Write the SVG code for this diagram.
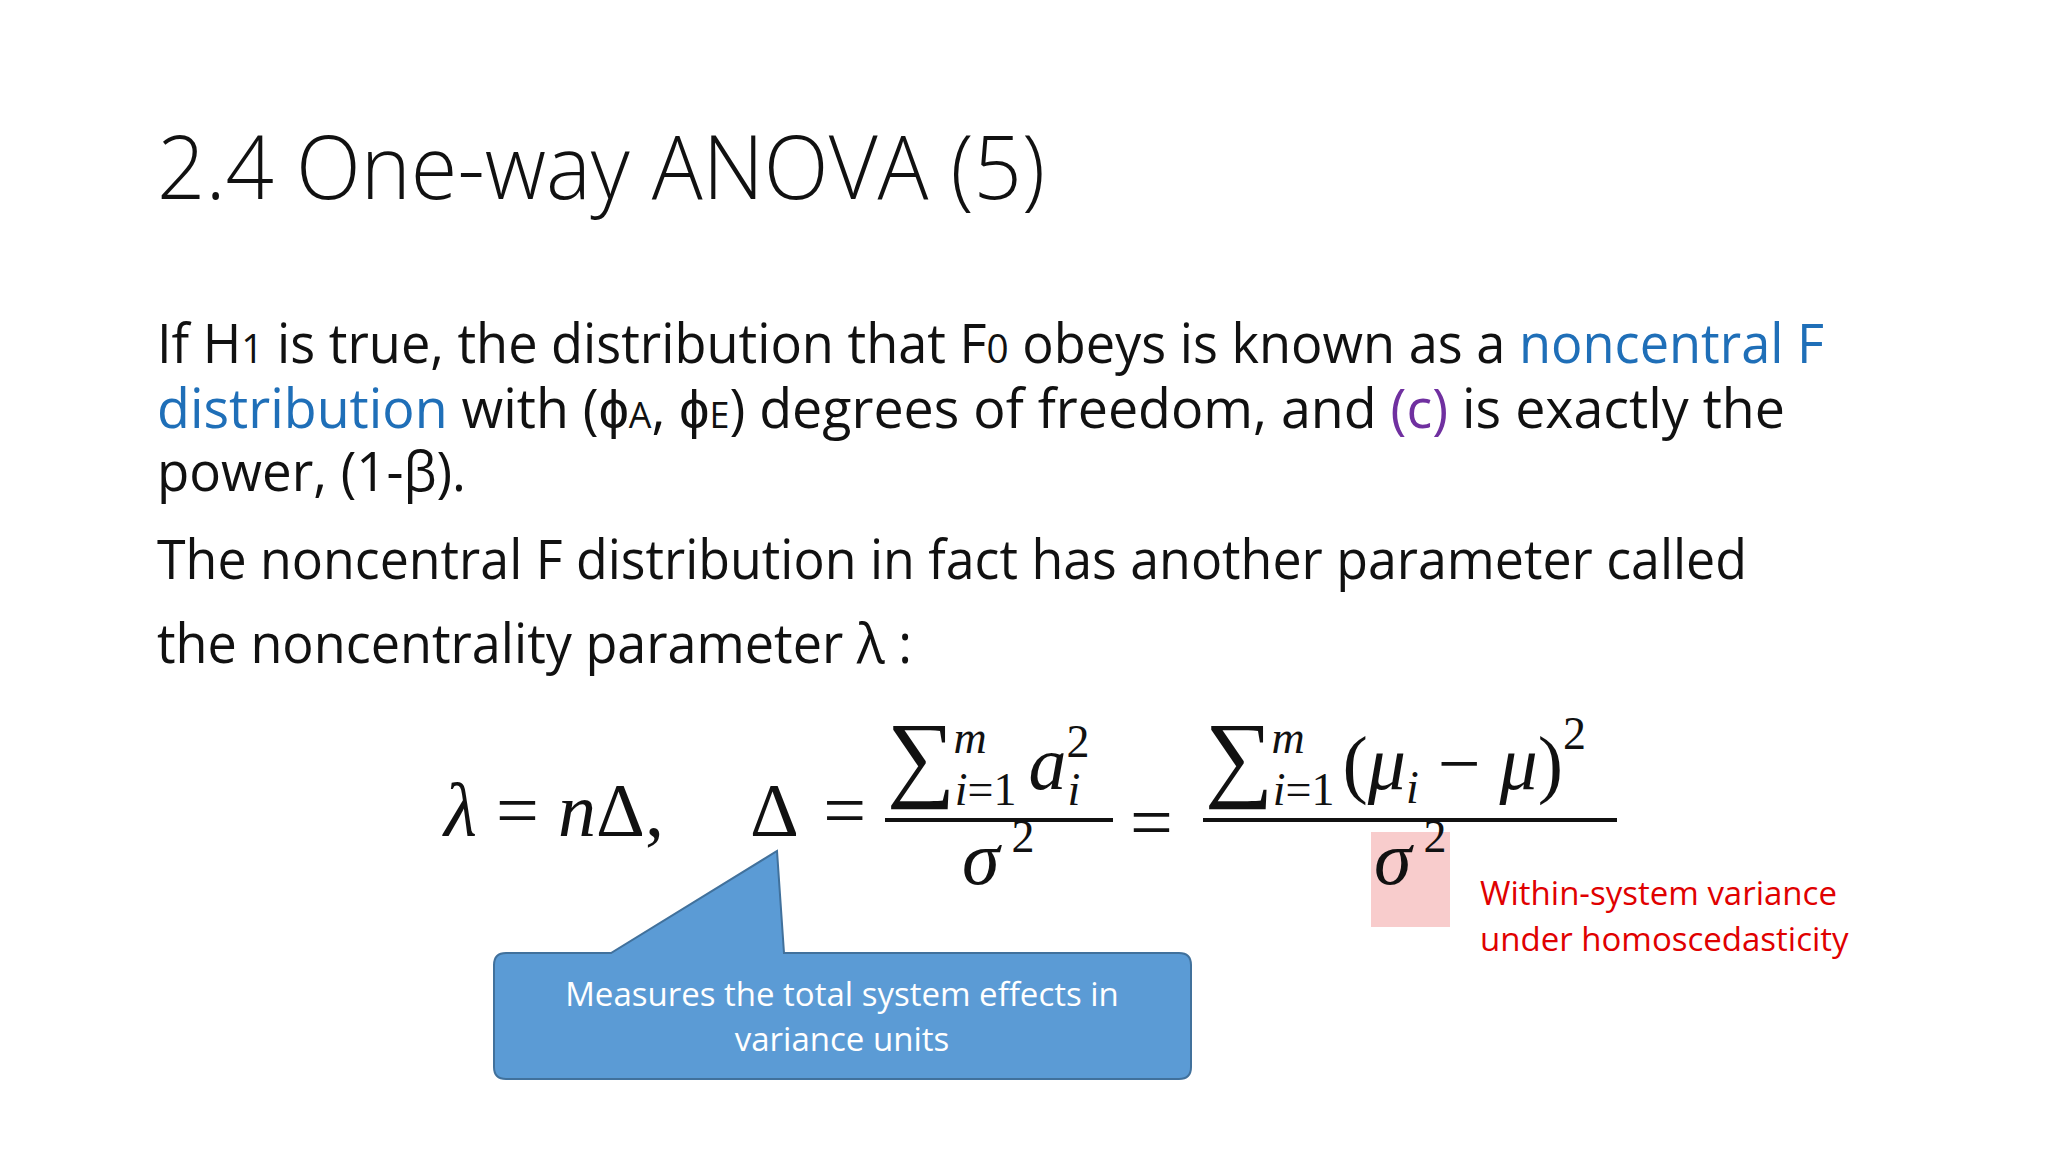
<svg xmlns="http://www.w3.org/2000/svg" width="2048" height="1152" viewBox="0 0 2048 1152">
<style>
.b{font-family:"Open Sans","Liberation Sans",sans-serif;font-size:54px;fill:#111}
.bl{fill:#1f6fb8}.pu{fill:#7030a0}
.m{font-family:"Liberation Serif",serif;font-size:76px;fill:#111}
.i{font-style:italic}
.s{font-size:46px}
.sg{font-size:96px}
.r{font-family:"Open Sans","Liberation Sans",sans-serif;font-size:33px;fill:#e00000}
.w{font-family:"Open Sans","Liberation Sans",sans-serif;font-size:33px;fill:#fff;text-anchor:middle}
</style>
<rect width="2048" height="1152" fill="#fff"/>
<g id="title"><text x="157" y="199" font-family="Open Sans, Liberation Sans, sans-serif" font-weight="300" font-size="88" fill="#111" textLength="888" lengthAdjust="spacingAndGlyphs">2.4 One-way ANOVA (5)</text></g>
<g id="body">
<text class="b" x="157" y="363" textLength="1667" lengthAdjust="spacingAndGlyphs">If H<tspan font-size="40">1</tspan> is true, the distribution that F<tspan font-size="40">0</tspan> obeys is known as a <tspan class="bl">noncentral F</tspan></text>
<text class="b" x="157" y="428" textLength="1628" lengthAdjust="spacingAndGlyphs"><tspan class="bl">distribution</tspan> with (ϕ<tspan font-size="36">A</tspan>, ϕ<tspan font-size="36">E</tspan>) degrees of freedom, and <tspan class="pu">(c)</tspan>  is exactly the</text>
<text class="b" x="157" y="491" textLength="309" lengthAdjust="spacingAndGlyphs">power, (1-β).</text>
<text class="b" x="157" y="579" textLength="1590" lengthAdjust="spacingAndGlyphs">The noncentral F distribution in fact has another parameter called</text>
<text class="b" x="157" y="663" textLength="755" lengthAdjust="spacingAndGlyphs">the noncentrality parameter λ :</text>
</g>
<g id="formula">
<rect x="1371" y="832" width="79" height="95" fill="#f8cccc"/>
<text class="m" x="444" y="836" textLength="220" lengthAdjust="spacing"><tspan class="i">λ</tspan> = <tspan class="i">n</tspan>Δ,</text>
<text class="m" x="750" y="836" textLength="116" lengthAdjust="spacing">Δ =</text>
<text class="m" x="887" y="789"><tspan class="sg">∑</tspan><tspan class="s i" dx="-2" dy="-36">m</tspan><tspan class="s" dx="-32" dy="52"><tspan class="i">i</tspan>=1</tspan><tspan class="i" dx="12" dy="-16">a</tspan><tspan class="s" dy="-32">2</tspan><tspan class="s i" dx="-22" dy="48">i</tspan></text>
<rect x="885" y="818" width="228" height="4" fill="#111"/>
<text class="m i" x="962" y="884">σ<tspan class="s" font-style="normal" dx="12" dy="-32">2</tspan></text>
<text class="m" x="1130" y="848">=</text>
<text class="m" x="1205" y="789"><tspan class="sg">∑</tspan><tspan class="s i" dx="-2" dy="-36">m</tspan><tspan class="s" dx="-32" dy="52"><tspan class="i">i</tspan>=1</tspan><tspan dx="8" dy="-16">(</tspan><tspan class="i">μ</tspan><tspan class="s i" dy="14">i</tspan><tspan dy="-14"> − </tspan><tspan class="i">μ</tspan>)<tspan class="s" dy="-40">2</tspan></text>
<rect x="1203" y="818" width="414" height="4" fill="#111"/>
<text class="m i" x="1374" y="884">σ<tspan class="s" font-style="normal" dx="12" dy="-32">2</tspan></text>
<text class="r" x="1480" y="905">Within-system variance</text>
<text class="r" x="1480" y="951">under homoscedasticity</text>
</g>
<g id="callout">
<path d="M506 953 H611 L777 851 L784 953 H1179 Q1191 953 1191 965 V1067 Q1191 1079 1179 1079 H506 Q494 1079 494 1067 V965 Q494 953 506 953 Z" fill="#5b9bd5" stroke="#41719c" stroke-width="2"/>
<text class="w" x="842" y="1006">Measures the total system effects in</text>
<text class="w" x="842" y="1051">variance units</text>
</g>
<g id="connectors"/>
</svg>
